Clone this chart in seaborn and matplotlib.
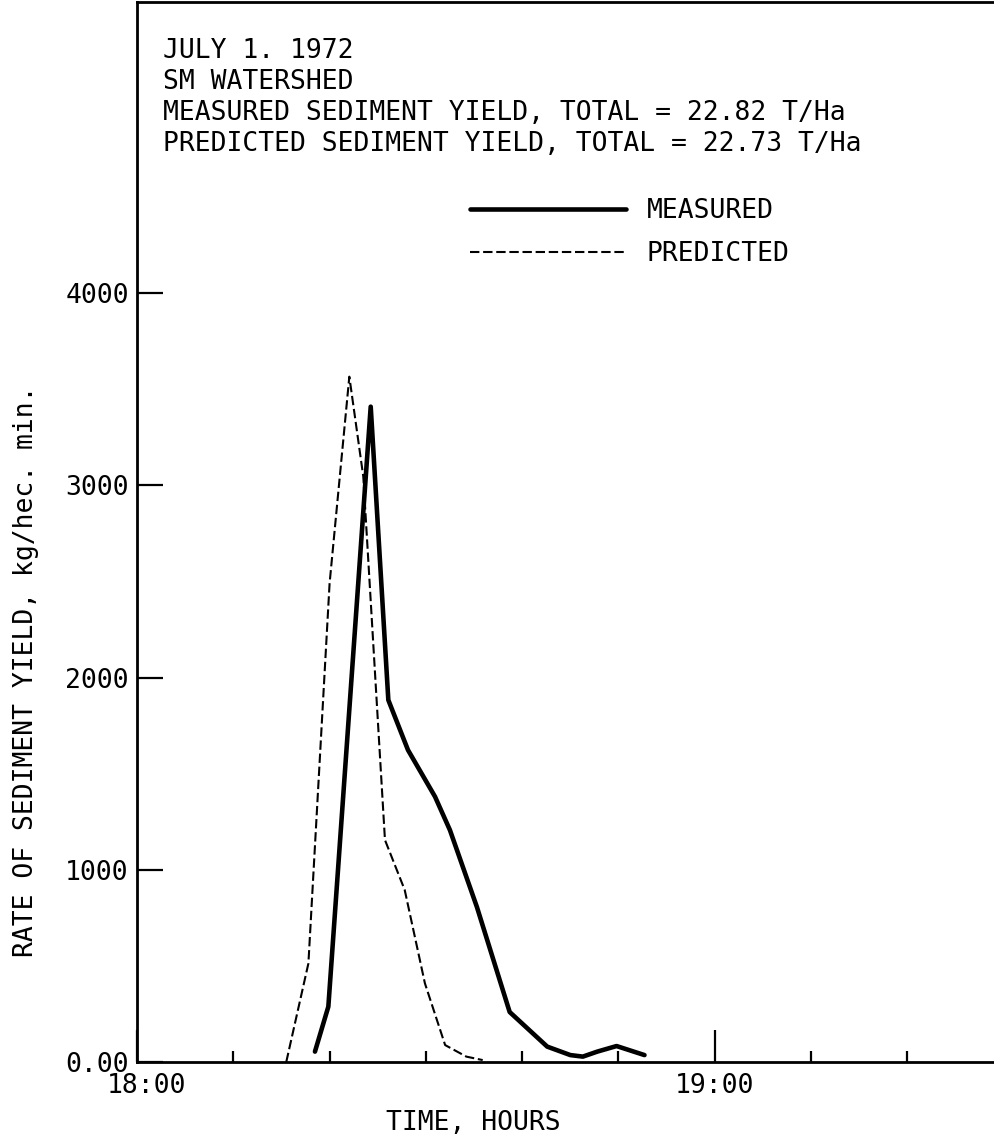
import matplotlib
matplotlib.use("Agg")
import matplotlib.pyplot as plt
from matplotlib.ticker import FixedLocator, FixedFormatter, NullFormatter
from matplotlib.transforms import ScaledTranslation
import seaborn as sns
import pandas as pd

# Minutes after 18:00 and sediment yield rate (kg/hec. min.)
measured_min = [18.48, 19.87, 24.27, 26.10, 28.14, 30.95, 32.5, 35.3, 38.7, 42.6, 45.0, 46.3, 47.8, 49.8, 52.7]
measured_rate = [54, 288, 3409, 1883, 1623, 1380, 1206, 806, 260, 80, 36, 28, 54, 83, 36]

predicted_min = [15.5, 17.8, 20.0, 22.05, 23.5, 25.75, 27.8, 29.9, 32.0, 34.2, 35.9]
predicted_rate = [0, 513, 2490, 3565, 3045, 1155, 895, 409, 88, 28, 10]

y_ticks = [0, 1000, 2000, 3000, 4000]
y_tick_labels = ["0.00", "1000", "2000", "3000", "4000"]
x_major = [0, 60]
x_major_labels = ["18:00", "19:00"]
x_minor = [10, 20, 30, 40, 50, 70, 80]

header_lines = [
    "JULY 1. 1972",
    "SM WATERSHED",
    "MEASURED SEDIMENT YIELD, TOTAL = 22.82 T/Ha",
    "PREDICTED SEDIMENT YIELD, TOTAL = 22.73 T/Ha",
]

sns.set_style("white")
plt.rcParams["font.family"] = ["DejaVu Sans Mono", "DejaVu Sans"]
plt.rcParams["text.color"] = "black"
plt.rcParams["axes.labelcolor"] = "black"
plt.rcParams["xtick.color"] = "black"
plt.rcParams["ytick.color"] = "black"
FS = 19

fig = plt.figure(figsize=(9.95, 11.4), dpi=100)
ax = fig.add_axes([137 / 995, 78 / 1140, 858 / 995, 1060 / 1140])

df_m = pd.DataFrame({"t": measured_min, "r": measured_rate})
df_p = pd.DataFrame({"t": predicted_min, "r": predicted_rate})

sns.lineplot(data=df_m, x="t", y="r", ax=ax, color="black", lw=3.3,
             label="MEASURED", sort=False)
sns.lineplot(data=df_p, x="t", y="r", ax=ax, color="black", lw=1.5,
             linestyle=(0, (4.5, 1.8)), label="PREDICTED", sort=False)

ax.set_xlim(0, 89.1)
ax.set_ylim(0, 5514)

for side in ["left", "bottom", "top"]:
    ax.spines[side].set_visible(True)
    ax.spines[side].set_linewidth(2.0)
    ax.spines[side].set_color("black")
ax.spines["right"].set_visible(False)

ax.yaxis.set_major_locator(FixedLocator(y_ticks))
ax.yaxis.set_major_formatter(FixedFormatter(y_tick_labels))
ax.xaxis.set_major_locator(FixedLocator(x_major))
ax.xaxis.set_major_formatter(FixedFormatter(x_major_labels))
ax.xaxis.set_minor_locator(FixedLocator(x_minor))
ax.xaxis.set_minor_formatter(NullFormatter())

ax.tick_params(axis="y", which="major", direction="in", length=19, width=1.6,
               labelsize=FS, pad=6, left=True, right=False, colors="black")
ax.tick_params(axis="x", which="major", direction="in", length=23, width=1.6,
               labelsize=FS, pad=8, bottom=True, top=False, colors="black")
ax.tick_params(axis="x", which="minor", direction="in", length=8, width=1.6,
               bottom=True, top=False, colors="black")

ax.set_xlabel("TIME, HOURS", fontsize=FS, labelpad=6)
ax.set_ylabel("RATE OF SEDIMENT YIELD, kg/hec. min.", fontsize=FS, labelpad=14)
ax.yaxis.set_label_coords(-0.114, 0.369)
ax.xaxis.set_label_coords(0.392, -0.045)

ax.text(0.0303, 0.966, "\n".join(header_lines), transform=ax.transAxes,
        ha="left", va="top", fontsize=FS, linespacing=1.25, color="black")

leg = ax.legend(loc="upper left", bbox_to_anchor=((470 - 137) / 858, (1062 - 198) / 1060),
                frameon=False, fontsize=FS, handlelength=5.9, handletextpad=0.8,
                labelspacing=0.66, borderpad=0, borderaxespad=0)
for t in leg.get_texts():
    t.set_color("black")

# nudge the 18:00 label right so it clears the corner
first = ax.xaxis.get_major_ticks()[0].label1
first.set_transform(first.get_transform() + ScaledTranslation(10 / 100, 0, fig.dpi_scale_trans))

fig.savefig("out.png", dpi=100, facecolor="white")
